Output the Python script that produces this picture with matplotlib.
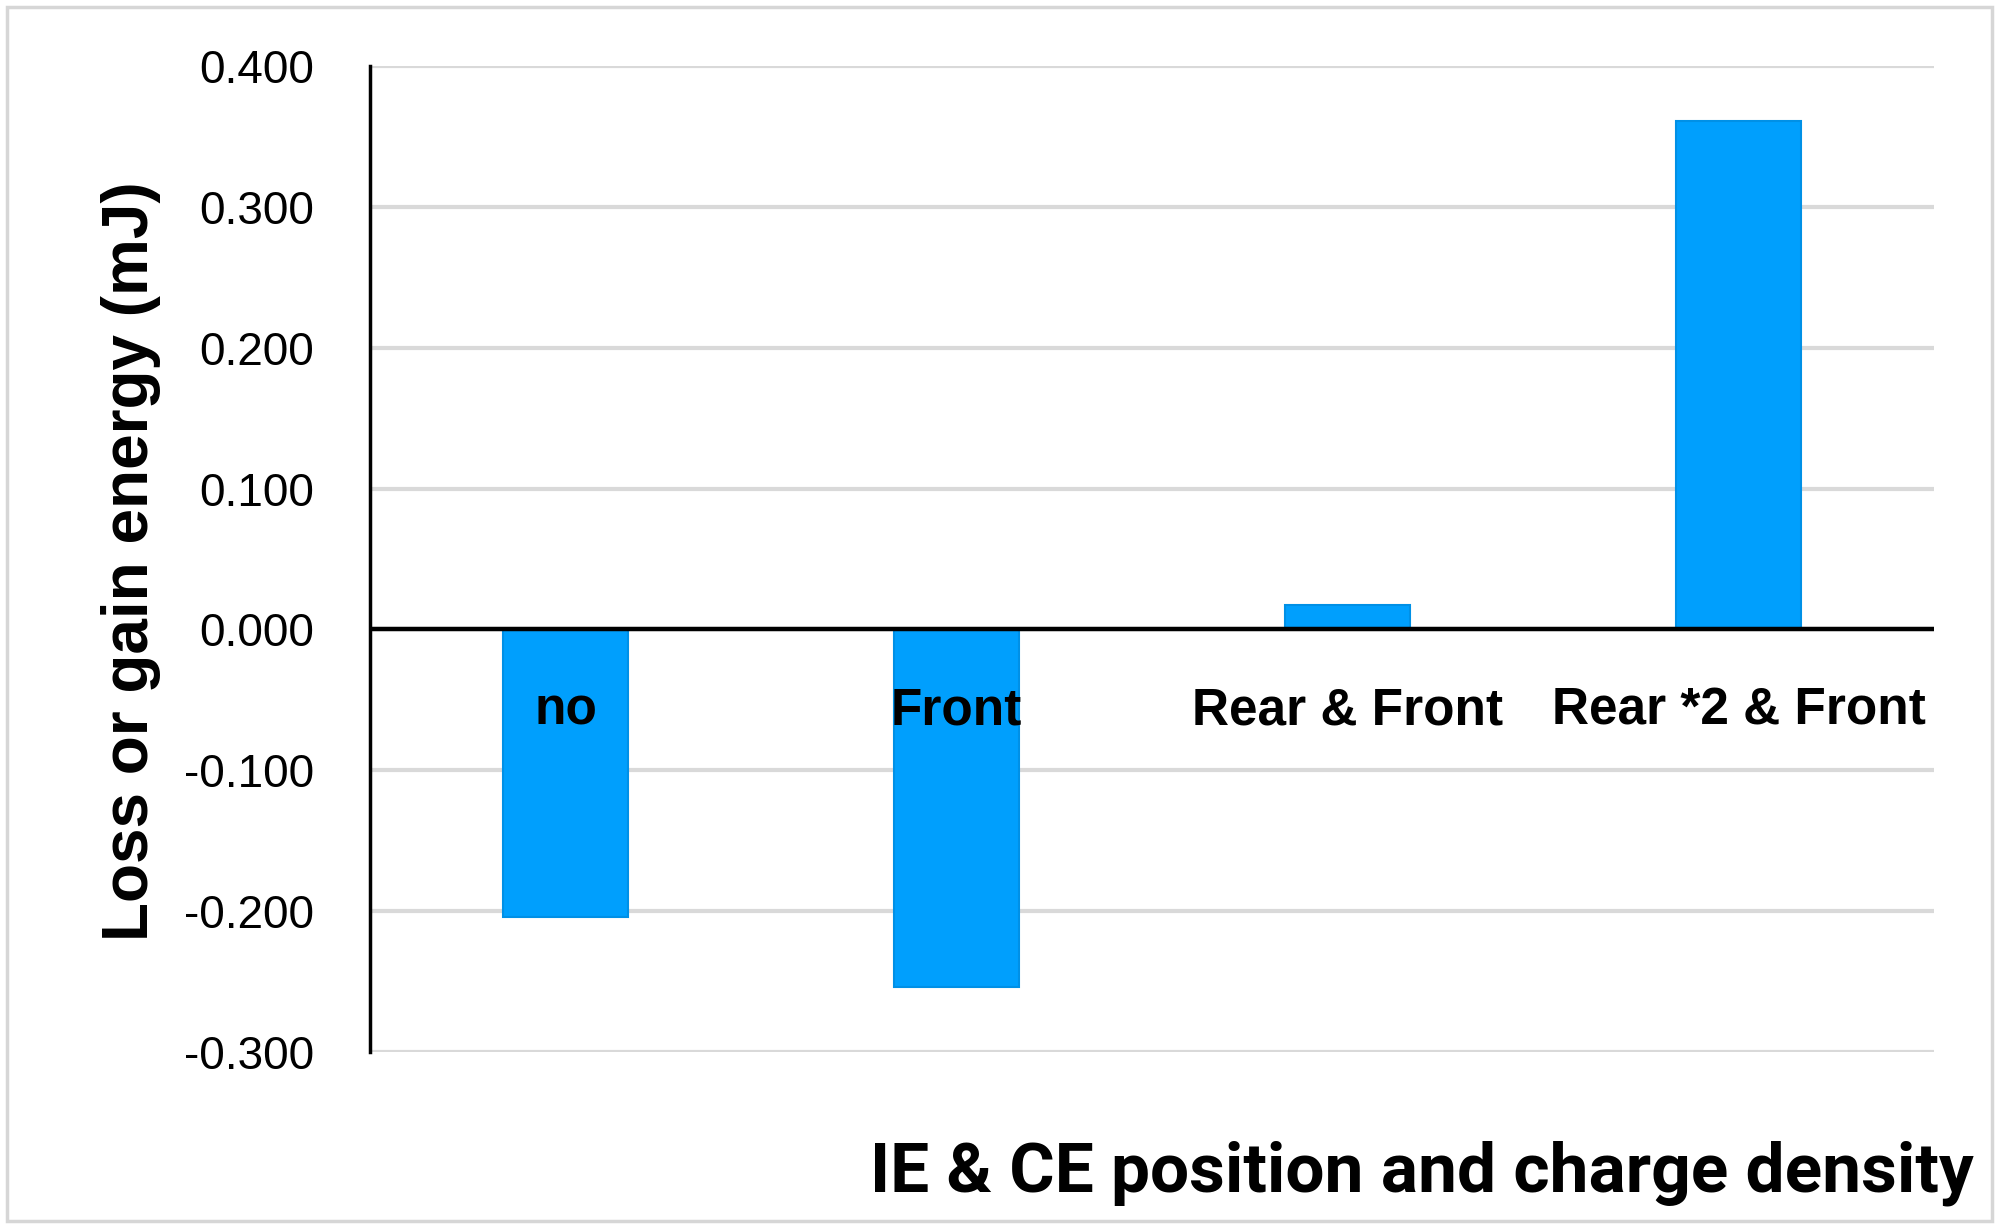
import matplotlib
matplotlib.use("Agg")
import matplotlib.pyplot as plt
from matplotlib.patches import Rectangle
import numpy as np

categories = ["no", "Front", "Rear & Front", "Rear *2 & Front"]
values = [-0.204, -0.254, 0.017, 0.361]
yticks = [-0.3, -0.2, -0.1, 0.0, 0.1, 0.2, 0.3, 0.4]
ylabel = "Loss or gain energy (mJ)"
xlabel = "IE & CE position and charge density"

W, H = 1999, 1228
fig = plt.figure(figsize=(W / 100, H / 100), dpi=100)
fig.patch.set_facecolor("white")

# light gray outer frame
fig.patches.append(Rectangle((7 / W, 7 / H), (W - 14) / W, (H - 14) / H,
                             transform=fig.transFigure, fill=False,
                             edgecolor="#d6d6d6", linewidth=2.5, zorder=0))

ax = fig.add_axes([370 / W, 1 - 1052 / H, (1934 - 370) / W, (1052 - 66) / H])

x = np.arange(len(categories))
ax.bar(x, values, width=0.32, color="#009FFD", edgecolor="#0090E6",
       linewidth=1.5, zorder=2)

ax.set_xlim(-0.5, len(categories) - 0.5)
ax.set_ylim(-0.3, 0.4)
ax.set_yticks(yticks)
ax.set_yticklabels([f"{v:.3f}" for v in yticks],
                   fontfamily="Liberation Sans", fontsize=33)
ax.tick_params(axis="y", length=0, pad=40)
ax.set_xticks([])

for sp in ["top", "right", "bottom"]:
    ax.spines[sp].set_visible(False)
ax.spines["left"].set_linewidth(2.5)
ax.spines["left"].set_color("black")

ax.yaxis.grid(True, color="#d9d9d9", linewidth=3, zorder=0)
ax.set_axisbelow(True)
ax.axhline(0, color="black", linewidth=3.2, zorder=3)

for xi, lab in zip(x, categories):
    ax.text(xi, -0.058, lab, ha="center", va="center", fontsize=37,
            fontweight="bold", fontfamily="Liberation Sans", zorder=4)

fig.text(131 / W, 1 - 561 / H, ylabel, rotation=90, ha="center", va="center",
         fontsize=46, fontweight="bold", fontfamily="Liberation Sans")
fig.text(1974 / W, 1 - 1192 / H, xlabel, ha="right", va="baseline",
         fontsize=50, fontweight="bold", fontfamily="Roboto")

fig.savefig("out.png", dpi=100, facecolor="white")
